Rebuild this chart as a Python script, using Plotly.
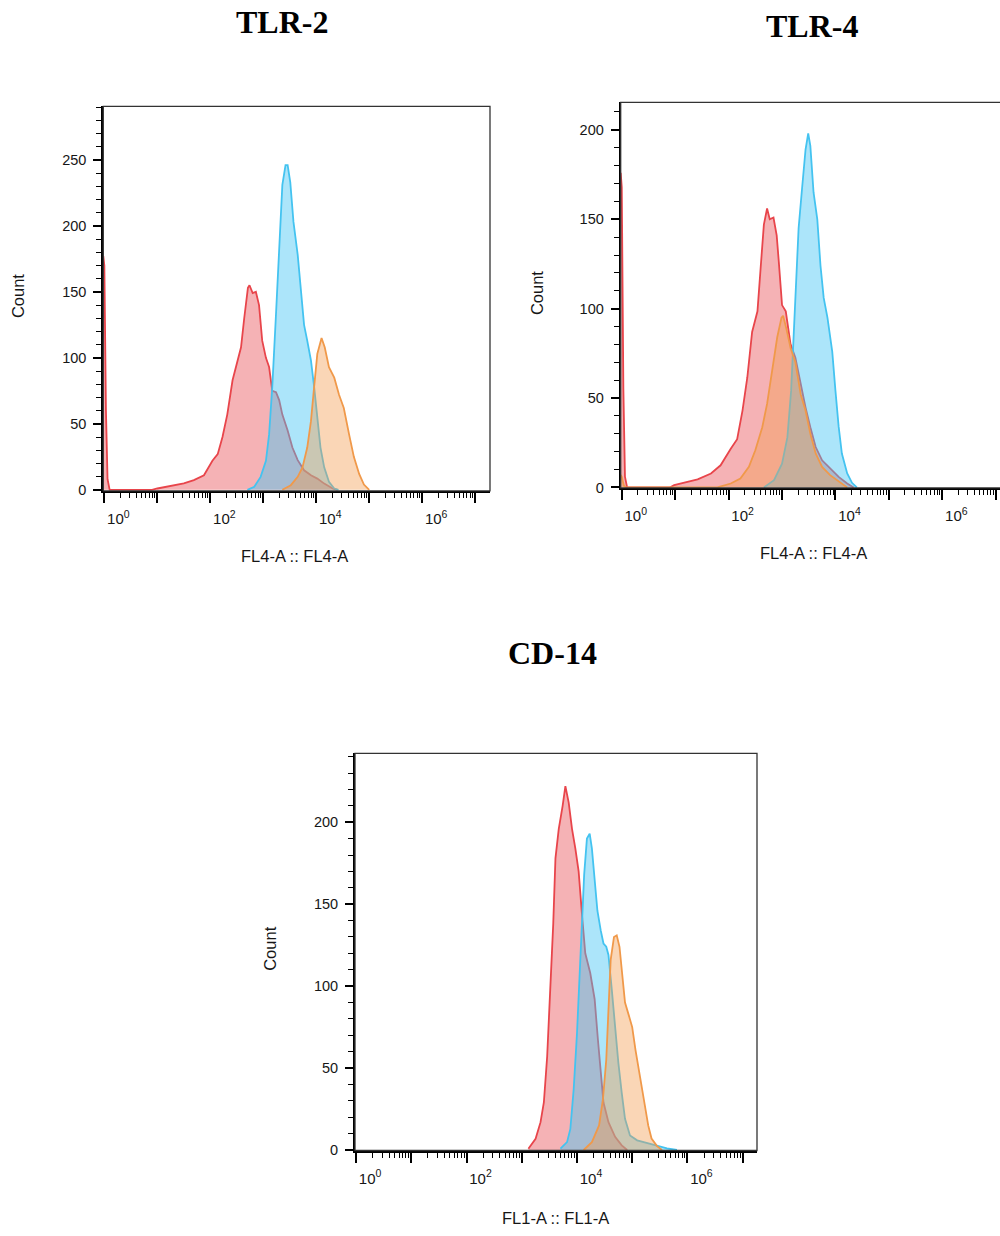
import numpy as np
import plotly.graph_objects as go

W, H = 1000, 1236

# ---------------- DATA (x in log10 fluorescence, y = count) ----------------
# TLR-2 panel (FL4-A)
tlr2_red_logx = [-0.02, 0.0, 0.03, 0.06, 0.10, 0.9, 1.0, 1.25, 1.5, 1.69, 1.88, 2.04, 2.14, 2.23, 2.32,
                 2.42, 2.50, 2.58, 2.64, 2.71, 2.74, 2.80, 2.86, 2.92, 2.98, 3.05, 3.11, 3.17,
                 3.24, 3.30, 3.36, 3.46, 3.55, 3.65, 3.77, 3.90, 4.02, 4.15, 4.31, 4.40]
tlr2_red_count = [177, 170, 60, 8, 0, 0, 1, 2.8, 4.8, 7.3, 11, 22, 27, 40, 57,
                  83, 95, 108, 130, 153, 155, 149, 150, 140, 113, 100, 93, 75,
                  74, 68, 57, 45, 32, 22.5, 14.8, 11, 8.5, 4.7, 1, 0]
tlr2_blue_logx = [2.70, 2.83, 2.95, 3.05, 3.11, 3.17, 3.24, 3.30, 3.36, 3.42, 3.46, 3.51, 3.57,
                  3.65, 3.71, 3.77, 3.83, 3.90, 3.96, 4.02, 4.08, 4.15, 4.24, 4.34, 4.42]
tlr2_blue_count = [0, 2.3, 9.8, 22, 42, 78, 133, 188, 231, 246, 246, 233, 203,
                   178, 153, 125, 113, 98, 78, 52, 32, 17, 6, 1, 0]
tlr2_orange_logx = [3.36, 3.52, 3.65, 3.74, 3.83, 3.90, 3.96, 4.02, 4.10, 4.16, 4.24, 4.34,
                    4.43, 4.52, 4.62, 4.71, 4.81, 4.90, 5.00]
tlr2_orange_count = [0, 3.5, 9.8, 17, 32, 52, 78, 103, 115, 108, 93, 85,
                     72, 62, 42, 25, 12, 4, 0]

# TLR-4 panel (FL4-A)
tlr4_red_logx = [-0.02, 0.0, 0.03, 0.06, 0.10, 0.9, 0.98, 1.17, 1.42, 1.67, 1.85, 2.04, 2.16, 2.26,
                 2.35, 2.44, 2.54, 2.60, 2.66, 2.72, 2.77, 2.84, 2.90, 2.94, 3.00, 3.07,
                 3.16, 3.25, 3.35, 3.44, 3.53, 3.63, 3.75, 3.90, 4.06, 4.22, 4.34]
tlr4_red_count = [176, 168, 55, 6, 0, 0, 1.3, 2.6, 4.5, 7.8, 12.4, 21.7, 27, 43,
                  61.5, 87, 98.5, 123, 147, 156, 150, 151, 141, 126, 102, 98.5,
                  80, 72.6, 57.8, 44.8, 33.7, 22.6, 15.2, 10.6, 5.9, 2.2, 0]
tlr4_blue_logx = [2.66, 2.85, 3.00, 3.10, 3.17, 3.22, 3.27, 3.31, 3.38, 3.44, 3.49, 3.53, 3.59,
                  3.66, 3.72, 3.78, 3.85, 3.94, 4.00, 4.06, 4.12, 4.22, 4.31, 4.40]
tlr4_blue_count = [0, 4.1, 13.3, 28, 54, 84, 113, 145, 169, 189, 198, 191, 165,
                   150, 124, 106, 95, 76, 54, 34, 19, 7.8, 2.6, 0]
tlr4_orange_logx = [-0.02, 0.0, 0.04, 0.08, 1.79, 2.04, 2.22, 2.38, 2.50, 2.63, 2.72, 2.82,
                    2.91, 2.99, 3.02, 3.08, 3.16, 3.25, 3.35, 3.44, 3.53, 3.63, 3.75,
                    3.90, 4.06, 4.22]
tlr4_orange_count = [7, 6, 1, 0, 0, 2.2, 5, 11.5, 20.8, 33.7, 46.7, 65,
                     84, 95, 96, 89, 78, 70, 52, 43, 30, 19, 11.5,
                     6.9, 3.2, 0]

# CD-14 panel (FL1-A)
cd14_red_logx = [3.12, 3.25, 3.34, 3.40, 3.46, 3.52, 3.57, 3.61, 3.67, 3.74, 3.79, 3.85, 3.91,
                 3.97, 4.03, 4.09, 4.15, 4.24, 4.32, 4.38, 4.43, 4.48, 4.57, 4.69, 4.81, 4.91]
cd14_red_count = [0.8, 6.8, 17, 29, 57, 98, 138, 178, 196, 210, 222, 212, 196,
                  184, 170, 144, 120, 108, 92, 67, 47, 29, 17, 8, 2.8, 0]
cd14_blue_logx = [3.70, 3.82, 3.88, 3.94, 4.00, 4.05, 4.09, 4.13, 4.18, 4.23, 4.27, 4.32, 4.37,
                  4.43, 4.48, 4.53, 4.57, 4.63, 4.69, 4.75, 4.81, 4.87, 4.96, 5.09, 5.26,
                  5.45, 5.63, 5.81]
cd14_blue_count = [0.8, 4.8, 12.9, 37, 71, 108, 140, 168, 190, 193, 184, 162, 146,
                   134, 126, 124, 119, 98, 73, 53, 35, 19, 8.9, 5.9, 4.4,
                   2.8, 1, 0]
cd14_orange_logx = [4.12, 4.27, 4.40, 4.47, 4.53, 4.57, 4.61, 4.67, 4.72, 4.77, 4.81, 4.87,
                    4.94, 5.00, 5.06, 5.12, 5.17, 5.23, 5.29, 5.35, 5.45, 5.54]
cd14_orange_count = [0, 4.8, 15, 31, 55, 88, 116, 130, 131, 124, 112, 90,
                     82, 75, 61, 49, 37, 27, 15, 7, 2.4, 0]

titles = ["TLR-2", "TLR-4", "CD-14"]
x_titles = ["FL4-A :: FL4-A", "FL4-A :: FL4-A", "FL1-A :: FL1-A"]
y_title = "Count"
y_major = [[0, 50, 100, 150, 200, 250], [0, 50, 100, 150, 200], [0, 50, 100, 150, 200]]
x_major_exp = [0, 1, 2, 3, 4, 5, 6, 7]
x_label_exp = [0, 2, 4, 6]

# ---------------- STYLE ----------------
RED_L, RED_F = "#E8454B", "rgba(232,72,78,0.42)"
BLUE_L, BLUE_F = "#44C3F0", "rgba(70,198,245,0.45)"
ORA_L, ORA_F = "#F0994A", "rgba(242,158,80,0.42)"
FONT = "Liberation Sans, Arial, sans-serif"
SERIF = "Liberation Serif, Times New Roman, serif"
TXT = "#161616"

# panel geometry in pixels: (left, right, top, bottom), x range (log), y range
panels = [
    dict(l=103.3, r=490, t=107, b=494, xr=[-0.02, 7.28], yr=[-0.75, 290.6]),
    dict(l=620.7, r=1000, t=103, b=491, xr=[-0.02, 7.08], yr=[-0.2, 215.4]),
    dict(l=355, r=757, t=758.3, b=1158, xr=[-0.02, 7.26], yr=[-0.3, 242]),
]

fig = go.Figure()

series = [
    [(tlr2_red_logx, tlr2_red_count, RED_L, RED_F),
     (tlr2_blue_logx, tlr2_blue_count, BLUE_L, BLUE_F),
     (tlr2_orange_logx, tlr2_orange_count, ORA_L, ORA_F)],
    [(tlr4_red_logx, tlr4_red_count, RED_L, RED_F),
     (tlr4_blue_logx, tlr4_blue_count, BLUE_L, BLUE_F),
     (tlr4_orange_logx, tlr4_orange_count, ORA_L, ORA_F)],
    [(cd14_red_logx, cd14_red_count, RED_L, RED_F),
     (cd14_blue_logx, cd14_blue_count, BLUE_L, BLUE_F),
     (cd14_orange_logx, cd14_orange_count, ORA_L, ORA_F)],
]

minor_vals = [k * 10 ** d for d in range(0, 8) for k in range(2, 10)]

for i, (p, sers) in enumerate(zip(panels, series)):
    xa = "x" if i == 0 else f"x{i+1}"
    ya = "y" if i == 0 else f"y{i+1}"
    for lx, cnt, lc, fc in sers:
        fig.add_trace(go.Scatter(
            x=np.power(10.0, np.array(lx)), y=cnt, xaxis=xa, yaxis=ya,
            mode="lines", line=dict(color=lc, width=1.8), fill="tozeroy",
            fillcolor=fc, showlegend=False, hoverinfo="skip"))

    xkey = "xaxis" if i == 0 else f"xaxis{i+1}"
    ykey = "yaxis" if i == 0 else f"yaxis{i+1}"
    xdom = [p["l"] / W, min(p["r"] / W, 1.0)]
    ydom = [1 - p["b"] / H, 1 - p["t"] / H]
    ticktext = [f"10<sup>{e}</sup>" if e in x_label_exp else "" for e in x_major_exp]
    fig.update_layout(**{
        xkey: dict(domain=xdom, anchor=ya, type="log", range=p["xr"],
                   tickmode="array", tickvals=[10 ** e for e in x_major_exp], ticktext=ticktext,
                   ticks="outside", ticklen=10, tickwidth=2, tickcolor="black",
                   ticklabelshift=14, ticklabelstandoff=3,
                   tickfont=dict(family=FONT, size=15, color=TXT),
                   showline=True, linewidth=2, linecolor="black", mirror=False,
                   showgrid=False, zeroline=False,
                   minor=dict(tickmode="array", tickvals=minor_vals, ticks="outside",
                              ticklen=5, tickwidth=1.3, tickcolor="black", showgrid=False)),
        ykey: dict(domain=ydom, anchor=xa, range=p["yr"],
                   tickmode="array", tickvals=y_major[i],
                   ticks="outside", ticklen=8, tickwidth=2, tickcolor="black",
                   ticklabelstandoff=4,
                   tickfont=dict(family=FONT, size=14.5, color=TXT),
                   showline=True, linewidth=2, linecolor="black", mirror=False,
                   showgrid=False, zeroline=False,
                   minor=dict(dtick=10, ticks="outside", ticklen=5, tickwidth=1.3,
                              tickcolor="black", showgrid=False)),
    })
    # thin frame
    fig.add_shape(type="rect", xref=f"{xa} domain", yref=f"{ya} domain",
                  x0=0, x1=1.0 if i != 1 else 1.02, y0=0, y1=1,
                  line=dict(color="#333333", width=1.3), layer="above")

# titles and axis titles
title_pos = [(282, 22), (812, 26), (552, 657)]
xt_pos = [(294, 560), (813, 557), (555, 1226)]
yt_pos = [(18, 298), (537, 295), (270, 955)]
for i in range(3):
    fig.add_annotation(text=f"<b>{titles[i]}</b>", x=title_pos[i][0] / W, y=1 - title_pos[i][1] / H,
                       xref="paper", yref="paper", showarrow=False, xanchor="center", yanchor="middle",
                       font=dict(family=SERIF, size=32, color="black"))
    fig.add_annotation(text=x_titles[i], x=xt_pos[i][0] / W, y=1 - xt_pos[i][1] / H,
                       xref="paper", yref="paper", showarrow=False, xanchor="center", yanchor="middle",
                       font=dict(family=FONT, size=16.5, color=TXT))
    fig.add_annotation(text=y_title, x=yt_pos[i][0] / W, y=1 - yt_pos[i][1] / H, textangle=-90,
                       xref="paper", yref="paper", showarrow=False, xanchor="center", yanchor="middle",
                       font=dict(family=FONT, size=16.5, color=TXT))

fig.update_layout(width=W, height=H, margin=dict(l=0, r=0, t=0, b=0),
                  paper_bgcolor="white", plot_bgcolor="white")

fig.write_html("out.html")
